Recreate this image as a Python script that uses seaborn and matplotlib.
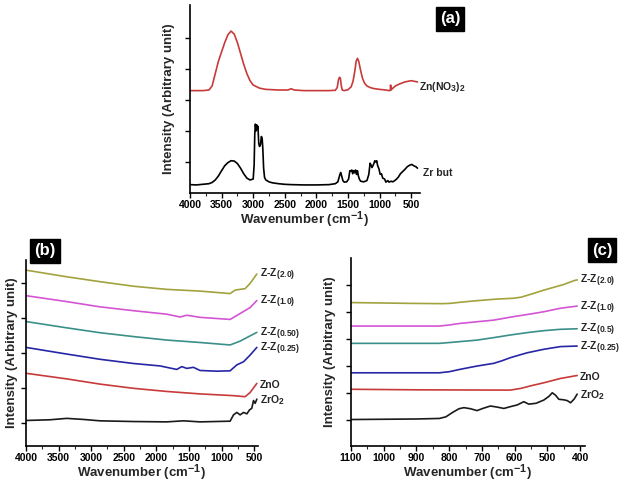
import matplotlib
matplotlib.use("Agg")
import matplotlib._mathtext as mathtext_internal
import matplotlib.pyplot as plt
import seaborn as sns
from matplotlib.ticker import MultipleLocator

# sub/superscripts in the labels are nearly full size in the original
mathtext_internal.SHRINK_FACTOR = 0.82

# ---- panel (a): precursors -------------------------------------------------
zrbut_wn = [4000, 3900, 3800, 3700, 3650, 3600, 3550, 3500, 3450, 3400, 3350, 3300,
            3250, 3200, 3150, 3100, 3050, 3000, 2985, 2975, 2965, 2955, 2945, 2935,
            2925, 2912, 2900, 2885, 2870, 2858, 2848, 2835, 2820, 2800, 2750, 2700,
            2600, 2500, 2400, 2200, 2000, 1800, 1700, 1660, 1630, 1615, 1600, 1580,
            1560, 1520, 1490, 1470, 1455, 1440, 1425, 1410, 1395, 1380, 1365, 1350,
            1335, 1320, 1300, 1250, 1200, 1170, 1150, 1135, 1120, 1105, 1090, 1075,
            1060, 1045, 1030, 1010, 990, 970, 950, 920, 900, 870, 850, 820, 790, 760,
            730, 700, 670, 640, 600, 560, 520, 490, 460, 420, 400]
zrbut_i = [0.27, 0.26, 0.28, 0.30, 0.34, 0.42, 0.55, 0.72, 0.88, 0.98, 1.04, 1.03,
           0.95, 0.80, 0.62, 0.48, 0.42, 0.45, 0.90, 1.90, 2.22, 2.00, 2.20, 2.05,
           2.15, 1.60, 1.50, 1.55, 1.82, 1.75, 1.45, 0.80, 0.50, 0.42, 0.36, 0.33,
           0.30, 0.28, 0.27, 0.26, 0.26, 0.27, 0.30, 0.36, 0.58, 0.66, 0.55, 0.40,
           0.35, 0.36, 0.45, 0.72, 0.70, 0.74, 0.62, 0.72, 0.65, 0.74, 0.60, 0.72,
           0.55, 0.45, 0.38, 0.36, 0.40, 0.60, 0.96, 0.90, 0.82, 0.88, 0.95, 1.04,
           1.00, 1.04, 0.88, 0.78, 0.60, 0.62, 0.48, 0.45, 0.35, 0.40, 0.35, 0.38,
           0.36, 0.40, 0.45, 0.52, 0.62, 0.68, 0.76, 0.85, 0.90, 0.92, 0.88, 0.84, 0.80]

znno3_wn = [4000, 3800, 3700, 3650, 3600, 3550, 3500, 3450, 3400, 3350, 3300, 3250,
            3200, 3150, 3100, 3050, 3000, 2900, 2800, 2600, 2450, 2400, 2350, 2200,
            2000, 1800, 1700, 1670, 1650, 1635, 1620, 1605, 1590, 1560, 1500, 1450,
            1420, 1390, 1370, 1350, 1330, 1300, 1270, 1240, 1200, 1150, 1100, 1000,
            900, 850, 830, 825, 818, 800, 750, 700, 650, 600, 550, 500, 450, 400]
znno3_i = [3.30, 3.30, 3.32, 3.45, 3.85, 4.25, 4.55, 4.85, 5.10, 5.22, 5.12, 4.85,
           4.50, 4.15, 3.85, 3.62, 3.48, 3.38, 3.34, 3.32, 3.32, 3.36, 3.32, 3.30,
           3.30, 3.30, 3.31, 3.40, 3.65, 3.73, 3.70, 3.45, 3.32, 3.30, 3.33, 3.42,
           3.60, 3.95, 4.25, 4.34, 4.25, 3.95, 3.70, 3.55, 3.45, 3.40, 3.37, 3.34,
           3.32, 3.30, 3.31, 3.48, 3.32, 3.36, 3.45, 3.50, 3.54, 3.58, 3.60, 3.62,
           3.60, 3.58]

# ---- panel (b): full range ---------------------------------------------------
b_zro2_wn = [4000, 3632, 3376, 3120, 2864, 2352, 1840, 1584, 1328, 868, 816, 765,
             714, 662, 611, 571, 535, 509, 484, 458]
b_zro2_i = [1.07, 1.09, 1.13, 1.10, 1.06, 1.04, 1.03, 1.06, 1.03, 1.05, 1.23, 1.30,
            1.23, 1.30, 1.26, 1.37, 1.42, 1.64, 1.56, 1.68]
b_zno_wn = [4000, 3376, 2864, 2352, 1840, 1328, 816, 638, 561, 458]
b_zno_i = [2.42, 2.26, 2.11, 1.99, 1.90, 1.83, 1.78, 1.75, 1.87, 2.13]
b_z025_wn = [4000, 3376, 2864, 2352, 1943, 1687, 1610, 1533, 1431, 1328, 1072, 868,
             765, 662, 561, 458]
b_z025_i = [3.16, 2.97, 2.82, 2.70, 2.63, 2.53, 2.61, 2.56, 2.59, 2.50, 2.48, 2.49,
            2.66, 2.75, 2.94, 3.16]
b_z050_wn = [4000, 3376, 2864, 2352, 1840, 1328, 868, 714, 561, 458]
b_z050_i = [3.90, 3.72, 3.58, 3.47, 3.37, 3.30, 3.23, 3.34, 3.49, 3.59]
b_z10_wn = [4000, 3376, 2864, 2352, 1840, 1636, 1533, 1328, 868, 714, 561, 458]
b_z10_i = [4.64, 4.47, 4.32, 4.21, 4.11, 4.03, 4.08, 4.02, 3.96, 4.13, 4.30, 4.50]
b_z20_wn = [4000, 3376, 2864, 2352, 1840, 1328, 868, 790, 638, 561, 458]
b_z20_i = [5.37, 5.18, 5.04, 4.91, 4.82, 4.77, 4.70, 4.80, 4.84, 4.99, 5.26]

# ---- panel (c): low wavenumber -----------------------------------------------
c_zro2_wn = [1100, 900, 830, 810, 790, 770, 755, 735, 715, 695, 674, 653, 633, 612,
             592, 572, 557, 535, 511, 495, 485, 475, 465, 450, 439, 429, 418, 409]
c_zro2_i = [1.02, 1.04, 1.06, 1.12, 1.28, 1.42, 1.46, 1.42, 1.35, 1.44, 1.52, 1.48,
            1.43, 1.50, 1.56, 1.68, 1.59, 1.62, 1.74, 1.88, 2.01, 1.92, 1.77, 1.75,
            1.72, 1.64, 1.78, 1.96]
c_zno_wn = [1100, 900, 640, 613, 582, 550, 511, 460, 409]
c_zno_i = [2.14, 2.12, 2.11, 2.11, 2.17, 2.27, 2.38, 2.54, 2.65]
c_z025_wn = [1100, 830, 800, 766, 715, 664, 640, 613, 562, 511, 460, 409]
c_z025_i = [2.75, 2.75, 2.79, 2.88, 3.00, 3.10, 3.19, 3.31, 3.49, 3.62, 3.72, 3.74]
c_z05_wn = [1100, 830, 790, 715, 660, 613, 560, 511, 460, 409]
c_z05_i = [3.84, 3.84, 3.88, 3.96, 4.06, 4.15, 4.24, 4.31, 4.36, 4.38]
c_z10_wn = [1100, 830, 800, 766, 664, 603, 550, 511, 460, 409]
c_z10_i = [4.48, 4.48, 4.52, 4.58, 4.70, 4.83, 4.93, 5.01, 5.14, 5.22]
c_z20_wn = [1100, 919, 820, 797, 760, 715, 654, 603, 580, 550, 511, 450, 419, 409]
c_z20_i = [5.35, 5.32, 5.31, 5.32, 5.37, 5.42, 5.48, 5.51, 5.55, 5.66, 5.81, 6.02, 6.16, 6.19]

labels_b = ["ZrO$_2$", "ZnO", "Z-Z$_{(0.25)}$", "Z-Z$_{(0.50)}$", "Z-Z$_{(1.0)}$", "Z-Z$_{(2.0)}$"]
labels_c = ["ZrO$_2$", "ZnO", "Z-Z$_{(0.25)}$", "Z-Z$_{(0.5)}$", "Z-Z$_{(1.0)}$", "Z-Z$_{(2.0)}$"]
colors = ["#1a1a1a", "#c83a3a", "#2626a6", "#3a9088", "#d455d4", "#a2a23e"]

sns.set_theme(style="ticks")
plt.rcParams["font.family"] = ["Liberation Sans", "DejaVu Sans"]
plt.rcParams["font.weight"] = "bold"
plt.rcParams["axes.labelweight"] = "bold"
plt.rcParams["mathtext.fontset"] = "custom"
plt.rcParams["mathtext.rm"] = "Liberation Sans:bold"
plt.rcParams["mathtext.it"] = "Liberation Sans:bold"
plt.rcParams["mathtext.bf"] = "Liberation Sans:bold"
plt.rcParams["mathtext.default"] = "rm"

fig = plt.figure(figsize=(6.25, 4.83), dpi=100)


def setup_axis(ax, xlim, ylim, major, minor, nyticks, ypad):
    ax.set_xlim(*xlim)
    ax.set_ylim(*ylim)
    ax.xaxis.set_major_locator(MultipleLocator(major))
    ax.xaxis.set_minor_locator(MultipleLocator(minor))
    ax.set_yticks(range(1, nyticks + 1))
    ax.set_yticklabels([])
    ax.tick_params(axis="both", which="major", direction="out", length=3.5, width=1.0,
                   labelsize=7.5, pad=1.5, colors="black")
    ax.tick_params(axis="x", which="minor", direction="out", length=2, width=0.8)
    for lab in ax.get_xticklabels():
        lab.set_fontweight("bold")
    for side in ("left", "bottom"):
        ax.spines[side].set_linewidth(1.2)
        ax.spines[side].set_color("black")
    sns.despine(ax=ax)
    ax.set_xlabel("Wavenumber (cm$^{-1}$)", fontsize=9.5, labelpad=0)
    ax.set_ylabel("Intensity (Arbitrary unit)", fontsize=9.5, labelpad=ypad)


def draw(ax, wn, inten, color):
    sns.lineplot(x=wn, y=inten, ax=ax, color=color, lw=1.2, sort=False, estimator=None)


def box_label(x, y, text):
    fig.text(x / 625, 1 - y / 483, text, color="white", fontsize=12, fontweight="bold",
             ha="center", va="center",
             bbox=dict(boxstyle="square,pad=0.25", fc="black", ec="black"))


# panel (a)
ax_a = fig.add_axes([190 / 625, 1 - 193 / 483, 230 / 625, 188 / 483])
draw(ax_a, zrbut_wn, zrbut_i, "black")
draw(ax_a, znno3_wn, znno3_i, "#c83a3a")
setup_axis(ax_a, (4000, 360), (0, 6.06), 500, 250, 5, 6)
ax_a.text(376, 3.42, "Zn(NO$_3$)$_2$", fontsize=7.5, fontweight="bold", ha="left",
          va="center", clip_on=False)
ax_a.text(315, 0.65, "Zr but", fontsize=7.5, fontweight="bold", ha="left",
          va="center", clip_on=False)
box_label(450, 19, "(a)")

# panel (b)
ax_b = fig.add_axes([26 / 625, 37 / 483, 232 / 625, 186 / 483])
series_b = [(b_zro2_wn, b_zro2_i), (b_zno_wn, b_zno_i), (b_z025_wn, b_z025_i),
            (b_z050_wn, b_z050_i), (b_z10_wn, b_z10_i), (b_z20_wn, b_z20_i)]
for (wn, inten), col, lab in zip(series_b, colors, labels_b):
    draw(ax_b, wn, inten, col)
    ax_b.annotate(lab, xy=(wn[-1], inten[-1]), xytext=(2, -1), textcoords="offset points",
                  fontsize=7.5, fontweight="bold", ha="left", va="center",
                  annotation_clip=False)
setup_axis(ax_b, (4000, 440), (0.34, 5.66), 500, 250, 5, 1)
box_label(45, 251, "(b)")

# panel (c)
ax_c = fig.add_axes([351 / 625, 37 / 483, 234 / 625, 188 / 483])
series_c = [(c_zro2_wn, c_zro2_i), (c_zno_wn, c_zno_i), (c_z025_wn, c_z025_i),
            (c_z05_wn, c_z05_i), (c_z10_wn, c_z10_i), (c_z20_wn, c_z20_i)]
for (wn, inten), col, lab in zip(series_c, colors, labels_c):
    draw(ax_c, wn, inten, col)
    ax_c.annotate(lab, xy=(wn[-1], inten[-1]), xytext=(2, -1), textcoords="offset points",
                  fontsize=7.5, fontweight="bold", ha="left", va="center",
                  annotation_clip=False)
setup_axis(ax_c, (1100, 385), (0.04, 7.0), 100, 50, 6, 6)
box_label(602, 250, "(c)")

fig.savefig("out.png", dpi=100)
